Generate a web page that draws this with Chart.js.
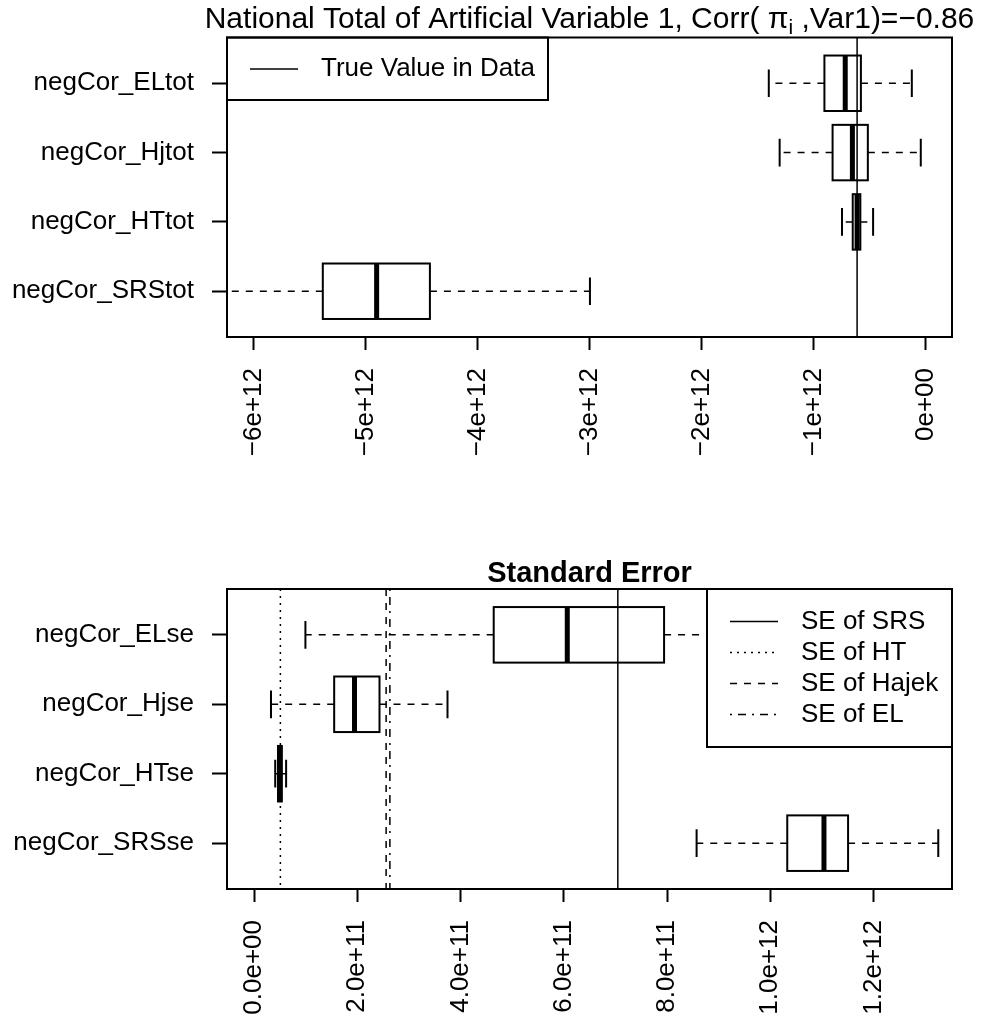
<!DOCTYPE html>
<html>
<head>
<meta charset="utf-8">
<title>National Total of Artificial Variable 1</title>
<script src="https://cdn.jsdelivr.net/npm/chart.js@4.4.1/dist/chart.umd.min.js"></script>
<style>
  html, body { margin: 0; padding: 0; background: #fff; }
  #top { position: absolute; left: 0; top: 0; }
  #bottom { position: absolute; left: 0; top: 500px; }
</style>
</head>
<body>
<canvas id="top" width="988" height="500"></canvas>
<canvas id="bottom" width="988" height="522"></canvas>
<script>
// ---- top panel: national totals ----
const totCats = ['negCor_ELtot', 'negCor_Hjtot', 'negCor_HTtot', 'negCor_SRStot'];
const totLow  = [-1.400e12, -1.303e12, -0.746e12, -6.600e12];
const totQ1   = [-0.903e12, -0.830e12, -0.650e12, -5.385e12];
const totMed  = [-0.717e12, -0.653e12, -0.611e12, -4.904e12];
const totQ3   = [-0.577e12, -0.515e12, -0.582e12, -4.428e12];
const totHigh = [-0.122e12, -0.042e12, -0.468e12, -2.998e12];
const trueValue = -0.611e12;
const totTicks = [-6e12, -5e12, -4e12, -3e12, -2e12, -1e12, 0];
const totTickLabels = ['\u22126e+12', '\u22125e+12', '\u22124e+12', '\u22123e+12', '\u22122e+12', '\u22121e+12', '0e+00'];

// ---- bottom panel: standard errors ----
const seCats = ['negCor_ELse', 'negCor_Hjse', 'negCor_HTse', 'negCor_SRSse'];
const seLow  = [0.0996e12, 0.0329e12, 0.0411e12, 0.8573e12];
const seQ1   = [0.4643e12, 0.1553e12, 0.0465e12, 1.0329e12];
const seMed  = [0.6068e12, 0.1947e12, 0.0502e12, 1.1040e12];
const seQ3   = [0.7943e12, 0.2431e12, 0.0538e12, 1.1507e12];
const seHigh = [1.0500e12, 0.3748e12, 0.0622e12, 1.3254e12];
const seRefNames  = ['SE of SRS', 'SE of HT', 'SE of Hajek', 'SE of EL'];
const seRefValues = [0.7047e12, 0.0511e12, 0.2559e12, 0.2632e12];
const seTicks = [0, 0.2e12, 0.4e12, 0.6e12, 0.8e12, 1.0e12, 1.2e12];
const seTickLabels = ['0.0e+00', '2.0e+11', '4.0e+11', '6.0e+11', '8.0e+11', '1.0e+12', '1.2e+12'];

const FONT = '"Liberation Sans", Arial, Helvetica, sans-serif';
const DASH = { solid: [], dotted: [2, 5], dashed: [7, 7], dotdash: [2, 6, 8, 6] };
const seRefDash = [DASH.solid, DASH.dotted, DASH.dashed, DASH.dotdash];

// boxplots drawn through the chart scales
function boxPlugin(cats, low, q1, med, q3, high) {
  return {
    id: 'boxes',
    beforeDatasetsDraw(chart) {
      const { ctx, chartArea: a, scales: { x, y } } = chart;
      const unit = Math.abs(y.getPixelForValue(2) - y.getPixelForValue(1));
      const hb = unit * 0.4, hc = unit * 0.2;
      ctx.save();
      ctx.beginPath();
      ctx.rect(a.left, a.top, a.width, a.height);
      ctx.clip();
      ctx.strokeStyle = '#000';
      cats.forEach((c, i) => {
        const yc = y.getPixelForValue(i + 1);
        const xl = x.getPixelForValue(low[i]);
        const x1 = x.getPixelForValue(q1[i]);
        const xm = x.getPixelForValue(med[i]);
        const x3 = x.getPixelForValue(q3[i]);
        const xh = x.getPixelForValue(high[i]);
        ctx.lineWidth = 1.5;
        ctx.setLineDash(DASH.dashed);
        ctx.beginPath();
        ctx.moveTo(x1, yc); ctx.lineTo(xl, yc);
        ctx.moveTo(x3, yc); ctx.lineTo(xh, yc);
        ctx.stroke();
        ctx.setLineDash([]);
        ctx.lineWidth = 2;
        ctx.beginPath();
        ctx.moveTo(xl, yc - hc); ctx.lineTo(xl, yc + hc);
        ctx.moveTo(xh, yc - hc); ctx.lineTo(xh, yc + hc);
        ctx.stroke();
        ctx.strokeRect(x1, yc - hb, x3 - x1, 2 * hb);
        ctx.lineWidth = 5;
        ctx.beginPath();
        ctx.moveTo(xm, yc - hb); ctx.lineTo(xm, yc + hb);
        ctx.stroke();
      });
      ctx.restore();
    }
  };
}

// R style legend box with line samples
function legendPlugin(names, dashes, place) {
  return {
    id: 'rlegend',
    afterDatasetsDraw(chart) {
      const { ctx, chartArea: a } = chart;
      const b = place(a);
      ctx.save();
      ctx.fillStyle = '#fff';
      ctx.fillRect(b.x, b.y, b.w, b.h);
      ctx.strokeStyle = '#000';
      ctx.lineWidth = 2;
      ctx.strokeRect(b.x, b.y, b.w, b.h);
      ctx.font = '26px ' + FONT;
      ctx.fillStyle = '#000';
      ctx.textBaseline = 'middle';
      names.forEach((n, i) => {
        const yy = b.y + b.first + i * b.step;
        ctx.lineWidth = 1.5;
        ctx.setLineDash(dashes[i]);
        ctx.beginPath();
        ctx.moveTo(b.x + b.l0, yy); ctx.lineTo(b.x + b.l1, yy);
        ctx.stroke();
        ctx.setLineDash([]);
        ctx.fillText(n, b.x + b.tx, yy);
      });
      ctx.restore();
    }
  };
}

const framePlugin = {
  id: 'frame',
  afterDraw(chart) {
    const { ctx, chartArea: a } = chart;
    ctx.save();
    ctx.strokeStyle = '#000';
    ctx.lineWidth = 2;
    ctx.strokeRect(a.left, a.top, a.width, a.height);
    ctx.restore();
  }
};

const topTitlePlugin = {
  id: 'topTitle',
  afterDraw(chart) {
    const { ctx, chartArea: a } = chart;
    const parts = [
      { t: 'National Total of Artificial Variable 1, Corr( ', s: 30, dy: 0 },
      { t: '\u03c0', s: 30, dy: 0 },
      { t: 'i', s: 21, dy: 6 },
      { t: ' ,Var1)=\u22120.86', s: 30, dy: 0 }
    ];
    ctx.save();
    ctx.fillStyle = '#000';
    ctx.textBaseline = 'alphabetic';
    let total = 0;
    parts.forEach(p => { ctx.font = p.s + 'px ' + FONT; p.w = ctx.measureText(p.t).width; total += p.w; });
    let xx = (a.left + a.right) / 2 - total / 2;
    parts.forEach(p => {
      ctx.font = p.s + 'px ' + FONT;
      ctx.fillText(p.t, xx, 28 + p.dy);
      xx += p.w;
    });
    ctx.restore();
  }
};

const bottomTitlePlugin = {
  id: 'bottomTitle',
  afterDraw(chart) {
    const { ctx, chartArea: a } = chart;
    ctx.save();
    ctx.fillStyle = '#000';
    ctx.font = 'bold 29px ' + FONT;
    ctx.textAlign = 'center';
    ctx.textBaseline = 'alphabetic';
    ctx.fillText('Standard Error', (a.left + a.right) / 2, a.top - 7);
    ctx.restore();
  }
};

function vline(v, dash) {
  return {
    data: [{ x: v, y: 0.34 }, { x: v, y: 4.66 }],
    showLine: true,
    borderColor: '#000',
    borderWidth: 1.5,
    borderDash: dash,
    pointRadius: 0
  };
}

function scales(cats, xmin, xmax, tickVals, tickLabels, xHeight) {
  return {
    x: {
      type: 'linear', min: xmin, max: xmax,
      afterBuildTicks: s => { s.ticks = tickVals.map(v => ({ value: v })); },
      afterFit: s => { s.height = xHeight; },
      border: { display: false },
      grid: { drawOnChartArea: false, drawTicks: true, tickLength: 13, tickColor: '#000', tickWidth: 2 },
      ticks: {
        autoSkip: false, maxRotation: 90, minRotation: 90, padding: 18, color: '#000',
        font: { family: FONT, size: 26 },
        callback: v => tickLabels[tickVals.indexOf(v)]
      }
    },
    y: {
      type: 'linear', min: 0.34, max: 4.66, reverse: true,
      afterBuildTicks: s => { s.ticks = cats.map((c, i) => ({ value: i + 1 })); },
      afterFit: s => { s.width = 227; },
      border: { display: false },
      grid: { drawOnChartArea: false, drawTicks: true, tickLength: 15, tickColor: '#000', tickWidth: 2 },
      ticks: {
        autoSkip: false, padding: 18, color: '#000',
        font: { family: FONT, size: 26 },
        callback: v => cats[v - 1]
      }
    }
  };
}

const common = {
  responsive: false,
  animation: false,
  events: [],
  plugins: { legend: { display: false }, tooltip: { enabled: false }, title: { display: false } }
};

new Chart(document.getElementById('top'), {
  type: 'scatter',
  data: { datasets: [vline(trueValue, DASH.solid)] },
  options: {
    ...common,
    layout: { padding: { top: 37.5, right: 36, left: 0, bottom: 0 } },
    scales: scales(totCats, -6.241e12, 0.237e12, totTicks, totTickLabels, 163)
  },
  plugins: [
    boxPlugin(totCats, totLow, totQ1, totMed, totQ3, totHigh),
    legendPlugin(['True Value in Data'], [DASH.solid], a => ({
      x: a.left, y: a.top, w: 321, h: 62.5, first: 31.5, step: 31, l0: 23, l1: 71, tx: 94
    })),
    framePlugin, topTitlePlugin
  ]
});

new Chart(document.getElementById('bottom'), {
  type: 'scatter',
  data: { datasets: seRefValues.map((v, i) => vline(v, seRefDash[i])) },
  options: {
    ...common,
    layout: { padding: { top: 89, right: 36, left: 0, bottom: 0 } },
    scales: scales(seCats, -0.0523e12, 1.352e12, seTicks, seTickLabels, 133)
  },
  plugins: [
    boxPlugin(seCats, seLow, seQ1, seMed, seQ3, seHigh),
    legendPlugin(seRefNames, seRefDash, a => ({
      x: a.right - 245, y: a.top, w: 245, h: 158, first: 32.5, step: 31, l0: 23, l1: 71, tx: 94
    })),
    framePlugin, bottomTitlePlugin
  ]
});
</script>
</body>
</html>
